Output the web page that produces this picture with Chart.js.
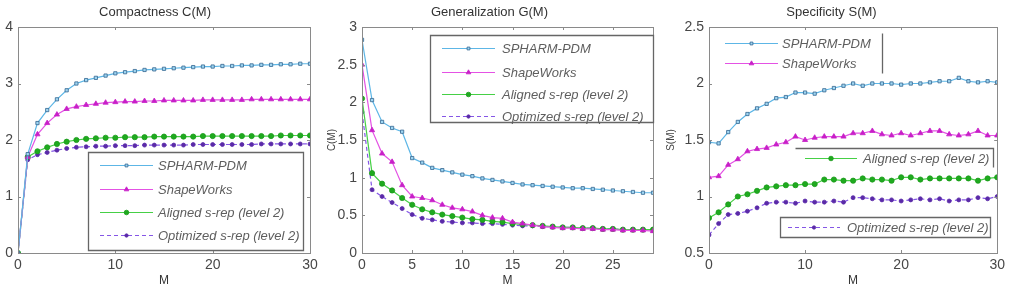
<!DOCTYPE html>
<html>
<head>
<meta charset="utf-8">
<script src="https://cdn.jsdelivr.net/npm/chart.js@4.4.1/dist/chart.umd.min.js"></script>
<style>
    html, body { margin: 0; padding: 0; background: #fff; }
    #wrap { position: relative; width: 1009px; height: 288px; overflow: hidden; }
    canvas { position: absolute; top: 0; }
</style>
</head>
<body>
<div id="wrap">
    <canvas id="c1" width="326" height="288" style="left:0"></canvas>
    <canvas id="c2" width="339" height="288" style="left:326px"></canvas>
    <canvas id="c3" width="344" height="288" style="left:665px"></canvas>
</div>
<script>
// ---- data ----
const M30 = [0, 1, 2, 3, 4, 5, 6, 7, 8, 9, 10, 11, 12, 13, 14, 15, 16, 17, 18, 19, 20, 21, 22, 23, 24, 25, 26, 27, 28, 29, 30];
const M29 = [0, 1, 2, 3, 4, 5, 6, 7, 8, 9, 10, 11, 12, 13, 14, 15, 16, 17, 18, 19, 20, 21, 22, 23, 24, 25, 26, 27, 28, 29];

const seriesNames = ['SPHARM-PDM', 'ShapeWorks', 'Aligned s-rep (level 2)', 'Optimized s-rep (level 2)'];

// Compactness C(M)
const cSpharm  = [0, 1.75, 2.3, 2.53, 2.72, 2.88, 3.0, 3.06, 3.1, 3.14, 3.18, 3.2, 3.22, 3.24, 3.25, 3.26, 3.27, 3.28, 3.29, 3.3, 3.3, 3.31, 3.31, 3.32, 3.32, 3.33, 3.33, 3.34, 3.34, 3.35, 3.35];
const cShape   = [0, 1.7, 2.1, 2.3, 2.45, 2.55, 2.59, 2.62, 2.64, 2.66, 2.67, 2.68, 2.68, 2.69, 2.69, 2.7, 2.7, 2.7, 2.7, 2.71, 2.71, 2.71, 2.71, 2.71, 2.72, 2.72, 2.72, 2.72, 2.72, 2.72, 2.72];
const cAligned = [0, 1.7, 1.8, 1.87, 1.93, 1.97, 2.0, 2.02, 2.03, 2.04, 2.04, 2.05, 2.05, 2.05, 2.06, 2.06, 2.06, 2.06, 2.06, 2.07, 2.07, 2.07, 2.07, 2.07, 2.07, 2.07, 2.07, 2.08, 2.08, 2.08, 2.08];
const cOpt     = [0, 1.65, 1.74, 1.78, 1.82, 1.85, 1.87, 1.88, 1.89, 1.89, 1.9, 1.9, 1.9, 1.91, 1.91, 1.91, 1.91, 1.91, 1.92, 1.92, 1.92, 1.92, 1.92, 1.92, 1.92, 1.93, 1.93, 1.93, 1.93, 1.93, 1.93];

// Generalization G(M)
const gSpharm  = [2.83, 2.03, 1.74, 1.66, 1.61, 1.26, 1.2, 1.13, 1.1, 1.07, 1.04, 1.02, 0.99, 0.97, 0.95, 0.93, 0.91, 0.9, 0.89, 0.88, 0.87, 0.86, 0.86, 0.85, 0.84, 0.83, 0.82, 0.81, 0.8, 0.8];
const gShape   = [2.5, 1.63, 1.32, 1.21, 0.9, 0.75, 0.73, 0.7, 0.64, 0.6, 0.58, 0.55, 0.5, 0.47, 0.46, 0.41, 0.39, 0.37, 0.35, 0.34, 0.33, 0.33, 0.32, 0.32, 0.31, 0.31, 0.3, 0.3, 0.3, 0.29];
const gAligned = [2.05, 1.06, 0.92, 0.83, 0.73, 0.64, 0.58, 0.54, 0.51, 0.49, 0.47, 0.45, 0.44, 0.42, 0.41, 0.39, 0.38, 0.37, 0.36, 0.35, 0.34, 0.34, 0.33, 0.33, 0.32, 0.32, 0.31, 0.31, 0.31, 0.31];
const gOpt     = [1.87, 0.84, 0.75, 0.67, 0.59, 0.51, 0.46, 0.44, 0.42, 0.41, 0.4, 0.4, 0.39, 0.39, 0.38, 0.37, 0.36, 0.36, 0.35, 0.35, 0.34, 0.34, 0.33, 0.33, 0.32, 0.32, 0.31, 0.31, 0.31, 0.3];

// Specificity S(M)
const sSpharm  = [1.48, 1.47, 1.57, 1.66, 1.73, 1.78, 1.82, 1.87, 1.88, 1.92, 1.92, 1.91, 1.94, 1.96, 1.98, 2.0, 1.98, 2.0, 2.0, 2.0, 1.99, 2.0, 2.0, 2.01, 2.02, 2.02, 2.05, 2.02, 2.01, 2.02, 2.01];
const sShape   = [1.17, 1.18, 1.28, 1.33, 1.4, 1.42, 1.43, 1.46, 1.48, 1.53, 1.5, 1.52, 1.53, 1.53, 1.53, 1.56, 1.56, 1.58, 1.55, 1.54, 1.56, 1.54, 1.56, 1.58, 1.58, 1.55, 1.54, 1.55, 1.58, 1.54, 1.54];
const sAligned = [0.81, 0.86, 0.93, 1.0, 1.02, 1.05, 1.08, 1.09, 1.1, 1.1, 1.11, 1.11, 1.15, 1.15, 1.14, 1.14, 1.16, 1.15, 1.15, 1.14, 1.17, 1.17, 1.15, 1.16, 1.16, 1.16, 1.16, 1.16, 1.14, 1.16, 1.17];
const sOpt     = [0.66, 0.76, 0.84, 0.85, 0.87, 0.9, 0.94, 0.95, 0.95, 0.94, 0.96, 0.95, 0.95, 0.96, 0.95, 0.99, 0.99, 0.98, 0.97, 0.97, 0.96, 0.97, 0.98, 0.97, 0.98, 0.96, 0.97, 0.97, 0.99, 0.98, 1.0];

// ---- styles ----
const FONT = '"Liberation Sans", Arial, sans-serif';
const AXIS_GRAY = '#8a8a8a';

const seriesStyle = [
    { borderColor: '#5db6e6', pointStyle: 'rect', pointRadius: 2.3, pointBackgroundColor: '#9fd6f2', pointBorderColor: '#34648f', borderDash: [] },
    { borderColor: '#e452e4', pointStyle: 'triangle', pointRadius: 3, pointBackgroundColor: '#c81fc8', pointBorderColor: '#c81fc8', borderDash: [] },
    { borderColor: '#46d046', pointStyle: 'circle', pointRadius: 2.6, pointBackgroundColor: '#1faa1f', pointBorderColor: '#1a9a1a', borderDash: [] },
    { borderColor: '#8556e6', pointStyle: 'circle', pointRadius: 2, pointBackgroundColor: '#5a2aa8', pointBorderColor: '#5a2aa8', borderDash: [4, 3] }
];

function makeDatasets(xs, lists) {
    return lists.map((vals, i) => ({
        label: seriesNames[i],
        data: vals.map((v, k) => ({ x: xs[k], y: v })),
        borderWidth: 1.2,
        pointBorderWidth: 0.8,
        tension: 0,
        ...seriesStyle[i]
    }));
}

// MATLAB style tick text: 3 not 3.0
const plainTick = v => String(+Number(v).toFixed(2));

/**
 * Draws the MATLAB-like axes box, inward ticks and the free-placed legends
 */
const matlabFrame = {
    id: 'matlabFrame',
    afterDraw(chart, args, opts) {
        const ctx = chart.ctx;
        const a = chart.chartArea;
        ctx.save();
        ctx.strokeStyle = AXIS_GRAY;
        ctx.lineWidth = 1;
        ctx.strokeRect(Math.round(a.left) + 0.5, Math.round(a.top) + 0.5,
            Math.round(a.right - a.left), Math.round(a.bottom - a.top));

        // inward ticks
        const xs = chart.scales.x, ys = chart.scales.y;
        ctx.beginPath();
        xs.ticks.forEach(t => {
            const px = Math.round(xs.getPixelForValue(t.value)) + 0.5;
            ctx.moveTo(px, a.bottom); ctx.lineTo(px, a.bottom - 3);
            ctx.moveTo(px, a.top); ctx.lineTo(px, a.top + 3);
        });
        ys.ticks.forEach(t => {
            const py = Math.round(ys.getPixelForValue(t.value)) + 0.5;
            ctx.moveTo(a.left, py); ctx.lineTo(a.left + 3, py);
            ctx.moveTo(a.right, py); ctx.lineTo(a.right - 3, py);
        });
        ctx.stroke();

        // legend frames
        ctx.strokeStyle = '#666';
        ctx.lineWidth = 1.3;
        (opts.frames || []).forEach(f => {
            ctx.beginPath();
            if (f.rect) {
                ctx.fillStyle = '#fff';
                ctx.fillRect(f.rect[0], f.rect[1], f.rect[2], f.rect[3]);
                ctx.rect(f.rect[0] + 0.5, f.rect[1] + 0.5, f.rect[2], f.rect[3]);
            }
            if (f.path) {
                ctx.moveTo(f.path[0][0] + 0.5, f.path[0][1] + 0.5);
                f.path.slice(1).forEach(p => ctx.lineTo(p[0] + 0.5, p[1] + 0.5));
            }
            ctx.stroke();
        });

        // legend entries
        ctx.font = 'italic 13px ' + FONT;
        ctx.textBaseline = 'middle';
        ctx.textAlign = 'left';
        (opts.entries || []).forEach(e => {
            const ds = chart.data.datasets[e.ds];
            ctx.strokeStyle = ds.borderColor;
            ctx.lineWidth = 1.2;
            ctx.setLineDash(ds.borderDash || []);
            ctx.beginPath();
            ctx.moveTo(e.x1, e.y + 0.5);
            ctx.lineTo(e.x2, e.y + 0.5);
            ctx.stroke();
            ctx.setLineDash([]);
            ctx.fillStyle = ds.pointBackgroundColor;
            ctx.strokeStyle = ds.pointBorderColor;
            ctx.lineWidth = 0.8;
            Chart.helpers.drawPoint(ctx, {
                pointStyle: ds.pointStyle, radius: ds.pointRadius - 0.3, rotation: 0, borderWidth: 0.8
            }, (e.x1 + e.x2) / 2, e.y + 0.5);
            ctx.fillStyle = '#5e5e5e';
            ctx.fillText(ds.label, e.tx, e.y + 1);
        });
        ctx.restore();
    }
};

function makeChart(id, p) {
    return new Chart(document.getElementById(id), {
        type: 'line',
        data: { datasets: makeDatasets(p.xs, p.series) },
        plugins: [matlabFrame],
        options: {
            responsive: false,
            animation: false,
            layout: { padding: { left: 0, right: p.padRight, top: 0, bottom: 0 } },
            plugins: {
                legend: { display: false },
                tooltip: { enabled: false },
                title: {
                    display: true,
                    text: p.title,
                    color: '#333',
                    font: { family: FONT, size: 13, weight: 'normal', lineHeight: 1.2 },
                    padding: { top: 4.5, bottom: 6.9 }
                },
                matlabFrame: { frames: p.frames, entries: p.entries }
            },
            scales: {
                x: {
                    type: 'linear',
                    min: 0,
                    max: p.xMax,
                    border: { display: false },
                    grid: { display: false, drawTicks: false },
                    ticks: {
                        stepSize: p.xStep, includeBounds: false, padding: 4,
                        color: '#474747', font: { family: FONT, size: 14 }, maxRotation: 0,
                        callback: plainTick
                    },
                    title: {
                        display: true, text: 'M', color: '#333',
                        font: { family: FONT, size: 12, lineHeight: 1.2 }, padding: 0
                    },
                    afterFit: s => { s.height = 35; }
                },
                y: {
                    min: p.yMin,
                    max: p.yMax,
                    border: { display: false },
                    grid: { display: false, drawTicks: false },
                    ticks: {
                        stepSize: p.yStep, includeBounds: false, padding: 5,
                        color: '#474747', font: { family: FONT, size: 14 },
                        callback: plainTick
                    },
                    title: {
                        display: !!p.yTitle, text: p.yTitle || '', color: '#444',
                        font: { family: FONT, size: 10, lineHeight: 1.2 }, padding: 0
                    },
                    afterFit: s => { s.width = p.yWidth; }
                }
            }
        }
    });
}

makeChart('c1', {
    title: 'Compactness C(M)',
    xs: M30, series: [cSpharm, cShape, cAligned, cOpt],
    xMax: 30, xStep: 10, yMin: 0, yMax: 4, yStep: 1,
    yWidth: 18, padRight: 16,
    frames: [{ rect: [88, 152, 215, 98] }],
    entries: [
        { ds: 0, x1: 100, x2: 153, y: 165, tx: 158 },
        { ds: 1, x1: 100, x2: 153, y: 189, tx: 158 },
        { ds: 2, x1: 100, x2: 153, y: 212, tx: 158 },
        { ds: 3, x1: 100, x2: 153, y: 235, tx: 158 }
    ]
});

makeChart('c2', {
    title: 'Generalization G(M)',
    xs: M29, series: [gSpharm, gShape, gAligned, gOpt],
    xMax: 29, xStep: 5, yMin: 0, yMax: 3, yStep: 0.5,
    yTitle: 'C(M)', yWidth: 36, padRight: 12,
    frames: [{ rect: [104, 35, 223, 87] }],
    entries: [
        { ds: 0, x1: 116, x2: 169, y: 48, tx: 176 },
        { ds: 1, x1: 116, x2: 169, y: 72, tx: 176 },
        { ds: 2, x1: 116, x2: 169, y: 94, tx: 176 },
        { ds: 3, x1: 116, x2: 169, y: 116, tx: 176 }
    ]
});

makeChart('c3', {
    title: 'Specificity S(M)',
    xs: M30, series: [sSpharm, sShape, sAligned, sOpt],
    xMax: 30, xStep: 10, yMin: 0.5, yMax: 2.5, yStep: 0.5,
    yTitle: 'S(M)', yWidth: 44, padRight: 11,
    frames: [
        { path: [[217, 33], [217, 73]] },
        { path: [[130, 148], [328, 148], [328, 167]] },
        { rect: [115, 217, 210, 20] }
    ],
    entries: [
        { ds: 0, x1: 60, x2: 113, y: 43, tx: 117 },
        { ds: 1, x1: 60, x2: 113, y: 63, tx: 117 },
        { ds: 2, x1: 140, x2: 192, y: 158, tx: 198 },
        { ds: 3, x1: 123, x2: 175, y: 227, tx: 182 }
    ]
});
</script>
</body>
</html>
